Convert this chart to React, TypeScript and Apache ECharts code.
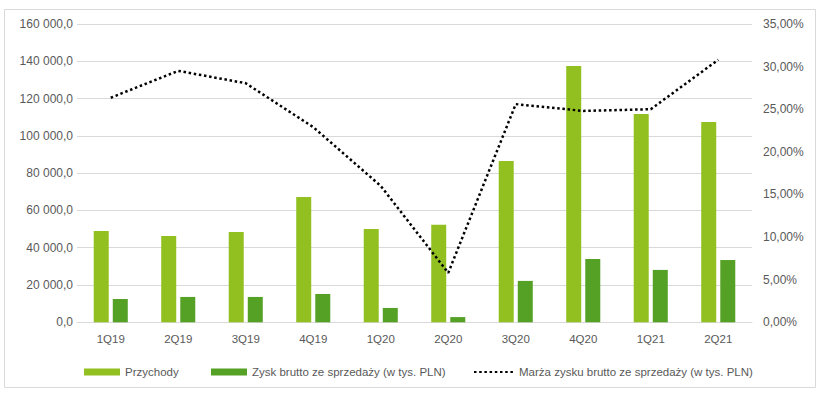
import React, { useEffect, useRef } from "react";
import * as echarts from "echarts";

const categories = ["1Q19", "2Q19", "3Q19", "4Q19", "1Q20", "2Q20", "3Q20", "4Q20", "1Q21", "2Q21"];
const przychody = [49000, 46300, 48400, 67200, 50000, 52300, 86500, 137500, 111700, 107400];
const zysk = [12500, 13600, 13600, 15200, 7700, 2800, 22200, 34000, 28100, 33400];
const marza = [26.35, 29.5, 28.05, 22.9, 16.0, 5.8, 25.6, 24.8, 25.0, 30.8];

const leftTicks = { min: 0, max: 160000, interval: 20000 };
const rightTicks = { min: 0, max: 35, interval: 5 };

const TEXT = "#595959";
const FONT = "Liberation Sans";

function fmtLeft(v: number): string {
  const s = Math.round(v).toString().replace(/\B(?=(\d{3})+(?!\d))/g, " ");
  return s + ",0";
}
function fmtRight(v: number): string {
  return v.toFixed(2).replace(".", ",") + "%";
}

export default function App() {
  const ref = useRef<HTMLDivElement>(null);
  useEffect(() => {
    if (!ref.current) return;
    const chart = echarts.init(ref.current, undefined, { renderer: "svg" });
    const legendText = { color: TEXT, fontSize: 11.5, fontFamily: FONT };
    chart.setOption({
      animation: false,
      backgroundColor: "#ffffff",
      graphic: [
        {
          type: "rect",
          shape: { x: 4.5, y: 9.5, width: 811, height: 378 },
          style: { fill: "none", stroke: "#d9d9d9", lineWidth: 1 },
          silent: true,
        },
      ],
      grid: { left: 77, right: 68, top: 24, bottom: 70.7 },
      legend: [
        {
          left: 79, top: 361, itemWidth: 36, itemHeight: 7, itemGap: 4,
          textStyle: legendText, data: ["Przychody"], icon: "rect",
        },
        {
          left: 206, top: 361, itemWidth: 36, itemHeight: 7,
          textStyle: legendText, data: ["Zysk brutto ze sprzedaży (w tys. PLN)"], icon: "rect",
        },
        {
          left: 468, top: 361, itemWidth: 40, itemHeight: 7,
          textStyle: legendText, data: ["Marża zysku brutto ze sprzedaży (w tys. PLN)"],
          itemStyle: { opacity: 0 },
        },
      ],
      xAxis: {
        type: "category",
        data: categories,
        axisLine: { show: true, lineStyle: { color: "#d9d9d9" } },
        axisTick: { show: false },
        axisLabel: { color: TEXT, fontSize: 11.5, fontFamily: FONT, margin: 11 },
      },
      yAxis: [
        {
          type: "value",
          min: leftTicks.min,
          max: leftTicks.max,
          interval: leftTicks.interval,
          axisLine: { show: false },
          axisTick: { show: false },
          splitLine: { lineStyle: { color: "#d9d9d9" } },
          axisLabel: { color: TEXT, fontSize: 12, fontFamily: FONT, margin: 4, formatter: fmtLeft },
        },
        {
          type: "value",
          min: rightTicks.min,
          max: rightTicks.max,
          interval: rightTicks.interval,
          axisLine: { show: false },
          axisTick: { show: false },
          splitLine: { show: false },
          axisLabel: { color: TEXT, fontSize: 12, fontFamily: FONT, margin: 11, formatter: fmtRight },
        },
      ],
      series: [
        {
          name: "Przychody",
          type: "bar",
          data: przychody,
          barWidth: 15,
          barGap: "27%",
          itemStyle: { color: "#92C020" },
        },
        {
          name: "Zysk brutto ze sprzedaży (w tys. PLN)",
          type: "bar",
          data: zysk,
          barWidth: 15,
          itemStyle: { color: "#55A125" },
        },
        {
          name: "Marża zysku brutto ze sprzedaży (w tys. PLN)",
          type: "line",
          yAxisIndex: 1,
          data: marza,
          symbol: "none",
          itemStyle: { color: "#000000" },
          lineStyle: { color: "#000000", width: 2.5, type: [2.5, 2.7] },
        },
      ],
    });
    return () => chart.dispose();
  }, []);
  return (
    <div
      ref={ref}
      style={{ position: "fixed", left: 0, top: 0, width: 820, height: 393 }}
    />
  );
}
